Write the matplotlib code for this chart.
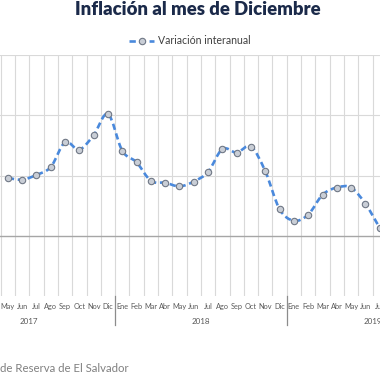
import numpy as np
import matplotlib
matplotlib.use("Agg")
import matplotlib.pyplot as plt
from matplotlib.path import Path
from matplotlib.patches import PathPatch
from matplotlib.lines import Line2D
import matplotlib.transforms as mtransforms

# --- Datos (variación interanual, %) ---
meses = ["May", "Jun", "Jul", "Ago", "Sep", "Oct", "Nov", "Dic",
         "Ene", "Feb", "Mar", "Abr", "May", "Jun", "Jul", "Ago", "Sep", "Oct", "Nov", "Dic",
         "Ene", "Feb", "Mar", "Abr", "May", "Jun", "Jul"]
anios = [2017] * 8 + [2018] * 12 + [2019] * 7
variacion = [0.96, 0.93, 1.01, 1.14, 1.55, 1.43, 1.67, 2.02,
             1.41, 1.22, 0.91, 0.88, 0.82, 0.90, 1.06, 1.44, 1.38, 1.48, 1.07, 0.44,
             0.25, 0.35, 0.68, 0.80, 0.80, 0.53, 0.13]
orden_meses = ["Ene", "Feb", "Mar", "Abr", "May", "Jun",
               "Jul", "Ago", "Sep", "Oct", "Nov", "Dic"]

plt.rcParams['font.family'] = ['Lato', 'DejaVu Sans']

color_linea = '#4A89DC'
color_grid = '#D9D9D9'
estilo_linea = (0, (2.4, 1.4))

fig = plt.figure(figsize=(3.8, 3.8), dpi=100)
ax = fig.add_axes([0, 1 - 296 / 380, 1, (296 - 55) / 380])

x = np.arange(len(variacion))
y = np.array(variacion, dtype=float)

# linea suavizada (bezier tipo Catmull-Rom entre los puntos)
verts = [(x[0], y[0])]
codes = [Path.MOVETO]
for i in range(len(x) - 1):
    p0 = np.array([x[max(i - 1, 0)], y[max(i - 1, 0)]])
    p1 = np.array([x[i], y[i]])
    p2 = np.array([x[i + 1], y[i + 1]])
    p3 = np.array([x[min(i + 2, len(x) - 1)], y[min(i + 2, len(x) - 1)]])
    c1 = p1 + (p2 - p0) / 6
    c2 = p2 - (p3 - p1) / 6
    verts += [tuple(c1), tuple(c2), tuple(p2)]
    codes += [Path.CURVE4] * 3
curva = PathPatch(Path(verts, codes), facecolor='none', edgecolor=color_linea,
                  linewidth=1.9, linestyle=estilo_linea, zorder=3)
ax.add_patch(curva)
ax.plot(x, y, linestyle='none', marker='o', markersize=4.6,
        markerfacecolor='#C9CED6', markeredgecolor='#6F7785',
        markeredgewidth=0.8, zorder=4)

ax.set_xlim(-0.549, 26.02)
ax.set_ylim(-1, 3)

# cuadricula
for b in np.arange(-1, len(x) + 1) + 0.5:
    ax.axvline(b, color=color_grid, linewidth=0.8, zorder=1)
for v in [1, 2, 3]:
    ax.axhline(v, color=color_grid, linewidth=0.8, zorder=1)
ax.axhline(0, color='#A6A6A6', linewidth=1.0, zorder=2)

for s in ax.spines.values():
    s.set_visible(False)
ax.set_xticks([])
ax.set_yticks([])

# etiquetas de meses y años
trans = mtransforms.blended_transform_factory(ax.transData, ax.transAxes)
for i, m in enumerate(meses):
    ax.text(i, -0.044, m, transform=trans, ha='center', va='center',
            fontsize=5.3, color='#595959')

for anio in sorted(set(anios)):
    idx = [i for i, a in enumerate(anios) if a == anio]
    pos_ene = idx[0] - orden_meses.index(meses[idx[0]])
    ax.text(pos_ene + 5.5, -0.106, str(anio), transform=trans, ha='center',
            va='center', fontsize=5.8, color='#595959', clip_on=False)
    if idx[0] > 0:
        ax.plot([idx[0] - 0.5, idx[0] - 0.5], [0, -0.12], transform=trans,
                color='#8C8C8C', linewidth=0.9, clip_on=False)

fig.text(198 / 380, 1 - 9.5 / 380, 'Inflación al mes de Diciembre', ha='center',
         va='center', fontsize=13.3, fontweight='heavy', color='#1B2A4A')

handle = Line2D([], [], color=color_linea, linewidth=1.9, linestyle=estilo_linea,
                marker='o', markersize=4.6, markerfacecolor='#C9CED6',
                markeredgecolor='#6F7785', markeredgewidth=0.8)
fig.legend([handle], ['Variación interanual'], loc='center',
           bbox_to_anchor=(0.5, 1 - 41 / 380), frameon=False, fontsize=7.6,
           handlelength=2.4, handletextpad=0.4, labelcolor='#404040')

fig.text(0.0, 1 - 369 / 380, 'de Reserva de El Salvador', ha='left', va='center',
         fontsize=8.2, color='#808080')

fig.savefig('out.png', dpi=100)
